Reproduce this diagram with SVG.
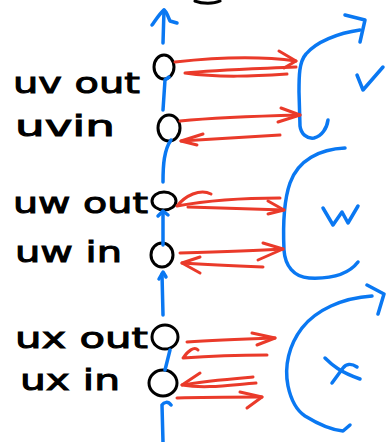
<svg xmlns="http://www.w3.org/2000/svg" width="386" height="442" viewBox="0 0 386 442">
  <style>
    .blue { stroke: #0a78f2; stroke-width: 3.5; fill: none; stroke-linecap: round; stroke-linejoin: round; }
    .red { stroke: #ea3a2a; stroke-width: 3; fill: none; stroke-linecap: round; stroke-linejoin: round; }
    .port { stroke: #000; stroke-width: 3; fill: none; }
    .ink { stroke: #000; stroke-width: 3; fill: none; stroke-linecap: round; }
    .lbl { font-family: "DejaVu Sans", "Liberation Sans", sans-serif; font-size: 29px; fill: #000; stroke: #000; stroke-width: 1; }
    .tag { stroke: #0a78f2; stroke-width: 3.5; fill: none; stroke-linecap: round; stroke-linejoin: round; }
  </style>
  <rect width="386" height="442" fill="#fff"/>

  <!-- stray stroke at the top edge -->
  <path class="ink" d="M195,1 C202,4 214,4 220,1"/>

  <!-- ports on the vertical chain -->
  <g id="uv-out">
    <ellipse class="port" cx="164" cy="67" rx="10" ry="12"/>
    <text class="lbl" x="13" y="93" textLength="127" lengthAdjust="spacingAndGlyphs">uv out</text>
  </g>
  <g id="uv-in">
    <ellipse class="port" cx="169" cy="128" rx="11" ry="13"/>
    <text class="lbl" x="15" y="136" textLength="100" lengthAdjust="spacingAndGlyphs">uvin</text>
  </g>
  <g id="uw-out">
    <ellipse class="port" cx="164" cy="201" rx="12" ry="9"/>
    <text class="lbl" x="13" y="213" textLength="135" lengthAdjust="spacingAndGlyphs">uw out</text>
  </g>
  <g id="uw-in">
    <ellipse class="port" cx="162" cy="255" rx="11" ry="12"/>
    <text class="lbl" x="15" y="262" textLength="107" lengthAdjust="spacingAndGlyphs">uw in</text>
  </g>
  <g id="ux-out">
    <ellipse class="port" cx="165" cy="337" rx="13" ry="12"/>
    <text class="lbl" x="15" y="348" textLength="133" lengthAdjust="spacingAndGlyphs">ux out</text>
  </g>
  <g id="ux-in">
    <ellipse class="port" cx="163" cy="383" rx="14" ry="13"/>
    <text class="lbl" x="20" y="390" textLength="100" lengthAdjust="spacingAndGlyphs">ux in</text>
  </g>

  <!-- brackets for the three nodes -->
  <g id="node-v">
    <path class="tag" d="M360,30 C338,33 316,42 306,54 C299,62 299,76 299,92 L300,126 C301,134 307,139 314,138 C322,136 327,128 328,120"/>
    <path class="tag" d="M345,15 L365,20 L360,42"/>
    <path class="tag" d="M357,75 L363,90 L383,67"/>
  </g>
  <g id="node-w">
    <path class="tag" d="M345,148 C320,149 298,160 290,183 C284,200 283,228 284,250 C285,266 294,277 309,278 C330,279 348,275 358,262"/>
    <path class="tag" d="M323,208 L333,225 L342,212 L348,223 L358,206"/>
  </g>
  <g id="node-x">
    <path class="tag" d="M372,296 C342,298 316,310 302,328 C289,345 284,366 288,386 C291,400 296,410 305,416 C318,424 332,430 343,431 L350,425"/>
    <path class="tag" d="M367,285 L384,294 L378,314"/>
    <path class="tag" d="M325,358 C332,365 340,372 360,379"/>
    <path class="tag" d="M357,367 C351,363 346,364 343,368 L332,383"/>
  </g>

  <g id="connectors">
    <!-- blue chain between ports -->
    <path class="blue" d="M163,43 L164,10"/>
    <path class="blue" d="M152,25 C157,18 161,12 164,10 C167,12 168,17 170,21 L177,23"/>
    <path class="blue" d="M163,110 L165,80 L169,77"/>
    <path class="blue" d="M163,182 C163,165 164,150 171,140"/>
    <path class="blue" d="M163,245 L163,212"/>
    <path class="blue" d="M158,216 L163,211 L168,215"/>
    <path class="blue" d="M163,315 L162,274"/>
    <path class="blue" d="M159,279 L163,272 L166,277"/>
    <path class="blue" d="M165,370 L170,350"/>
    <path class="blue" d="M163,442 L162,405 C164,402 168,401 171,405"/>

    <!-- uv out <-> V -->
    <path class="red" d="M175,62 C220,57 260,56 296,61"/>
    <path class="red" d="M279,51 L296,61 L284,68"/>
    <path class="red" d="M296,67 C250,69 212,70 185,73 C220,78 255,76 287,74"/>
    <!-- uvin <-> V -->
    <path class="red" d="M180,121 C220,117 260,116 300,115"/>
    <path class="red" d="M281,108 L300,115 L278,122"/>
    <path class="red" d="M280,135 C245,137 210,139 181,141"/>
    <path class="red" d="M203,134 L181,141 L197,145"/>
    <!-- uw out <-> W -->
    <path class="red" d="M280,198 C240,198 210,200 177,206 C185,196 200,188 211,194"/>
    <path class="red" d="M188,207 C220,208 255,209 284,210"/>
    <path class="red" d="M268,201 L284,210 L268,214"/>
    <!-- uw in <-> W -->
    <path class="red" d="M180,253 C215,252 250,251 283,249"/>
    <path class="red" d="M263,243 L283,249 L258,260"/>
    <path class="red" d="M263,267 C235,266 210,265 182,263"/>
    <path class="red" d="M200,257 L182,263 L200,273"/>
    <!-- ux out <-> X -->
    <path class="red" d="M187,342 C215,340 245,339 275,338"/>
    <path class="red" d="M252,333 L275,338 L257,345"/>
    <path class="red" d="M267,355 C240,355 210,356 183,358 C188,351 194,346 198,350"/>
    <!-- ux in <-> X -->
    <path class="red" d="M253,377 C230,379 205,381 182,385 C205,389 230,385 256,383"/>
    <path class="red" d="M200,373 L182,385"/>
    <path class="red" d="M177,398 C205,397 235,397 262,397"/>
    <path class="red" d="M240,392 L262,397 L247,408"/>
  </g>
</svg>
